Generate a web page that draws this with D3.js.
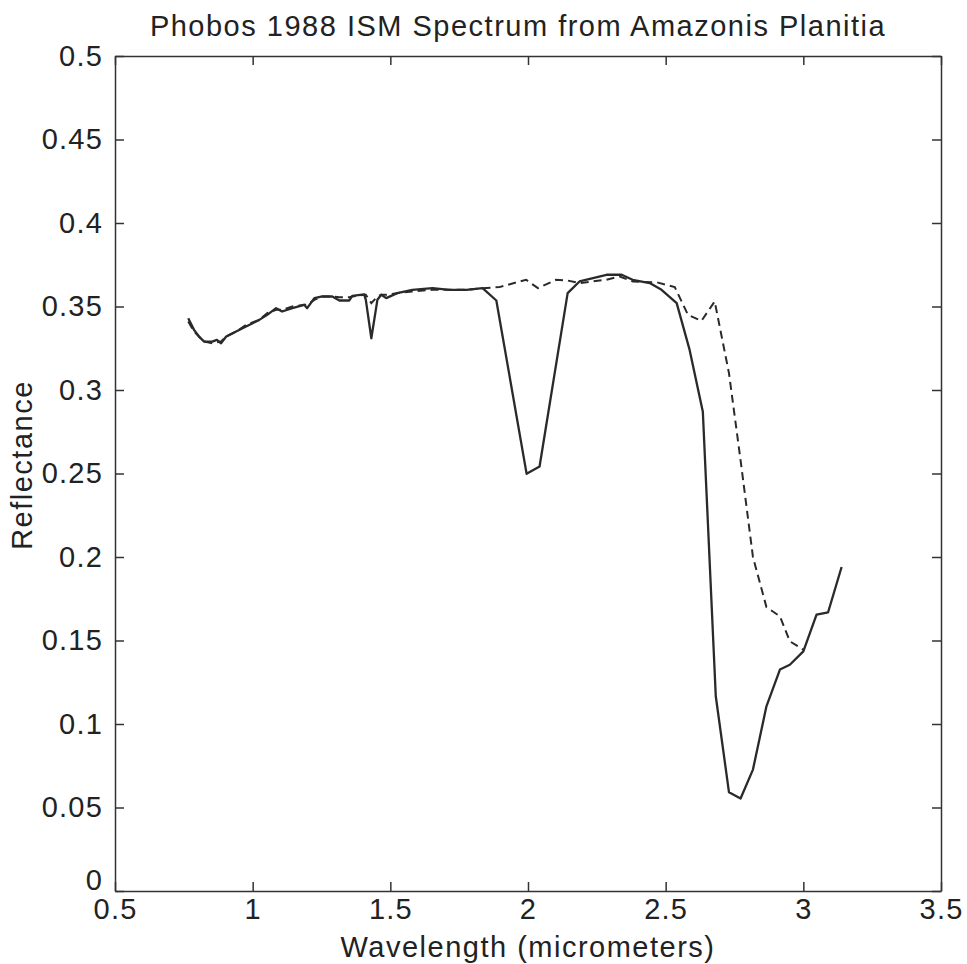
<!DOCTYPE html>
<html lang="en">
<head>
<meta charset="utf-8">
<title>Phobos 1988 ISM Spectrum</title>
<script type="text/javascript" src="https://d3js.org/d3.v7.min.js"></script>
<style type="text/css">
    body { margin: 0; background: white; }
    .axis path, .axis line { fill: none; stroke: #333; stroke-width: 1.5; }
    .axis text { font-family: "Liberation Sans", Arial, sans-serif; font-size: 29px; letter-spacing: 1.2px; fill: #222; }
    .lbl { font-family: "Liberation Sans", Arial, sans-serif; font-size: 29px; letter-spacing: 1.5px; fill: #222; }
</style>
</head>
<body>
<script type="text/javascript">
// wavelength (micrometers), reflectance
var solidWave = [0.766,0.787,0.805,0.824,0.853,0.870,0.885,0.904,0.940,0.976,1.000,1.024,1.053,1.085,1.107,1.144,1.187,1.198,1.224,1.253,1.289,1.315,1.351,1.362,1.405,1.411,1.431,1.453,1.467,1.485,1.525,1.580,1.653,1.715,1.776,1.835,1.885,1.995,2.042,2.144,2.187,2.285,2.340,2.380,2.442,2.485,2.540,2.587,2.635,2.682,2.730,2.772,2.817,2.866,2.915,2.951,3.000,3.048,3.090,3.139];
var solidRefl = [0.343,0.336,0.332,0.329,0.329,0.330,0.328,0.332,0.335,0.338,0.340,0.342,0.345,0.349,0.347,0.349,0.351,0.349,0.355,0.356,0.356,0.3536,0.3536,0.3564,0.3573,0.354,0.331,0.354,0.357,0.355,0.358,0.360,0.361,0.360,0.360,0.361,0.3536,0.2498,0.2542,0.358,0.365,0.369,0.369,0.366,0.364,0.360,0.352,0.324,0.287,0.1166,0.0591,0.0554,0.0727,0.1106,0.1326,0.1355,0.1435,0.1655,0.1669,0.194];

var dashWave = [0.766,0.787,0.824,0.853,0.885,0.904,0.940,0.976,1.024,1.053,1.085,1.107,1.144,1.187,1.198,1.224,1.253,1.289,1.315,1.351,1.362,1.405,1.411,1.431,1.453,1.467,1.485,1.525,1.580,1.653,1.715,1.776,1.835,1.896,1.993,2.036,2.102,2.145,2.187,2.284,2.333,2.381,2.472,2.533,2.581,2.630,2.678,2.730,2.772,2.817,2.866,2.915,2.951,3.000];
var dashRefl = [0.341,0.335,0.329,0.328,0.329,0.332,0.335,0.339,0.342,0.346,0.348,0.348,0.350,0.351,0.351,0.354,0.356,0.356,0.3556,0.3556,0.356,0.357,0.357,0.352,0.356,0.357,0.357,0.358,0.359,0.360,0.360,0.360,0.361,0.3616,0.366,0.361,0.366,0.3655,0.364,0.366,0.368,0.365,0.3643,0.3616,0.345,0.3414,0.353,0.310,0.258,0.200,0.170,0.1645,0.1495,0.1445];

var xTicks = [0.5,1,1.5,2,2.5,3,3.5];
var xTickLabels = ["0.5","1","1.5","2","2.5","3","3.5"];
var yTicks = [0,0.05,0.1,0.15,0.2,0.25,0.3,0.35,0.4,0.45,0.5];
var yTickLabels = ["0","0.05","0.1","0.15","0.2","0.25","0.3","0.35","0.4","0.45","0.5"];

var w = 967, h = 964;
var padL = 115, padR = 941, padT = 56, padB = 891;

var svg = d3.select("body").append("svg")
    .attr("width", w)
    .attr("height", h);

var x = d3.scaleLinear().domain([0.5, 3.5]).range([padL, padR]);
var y = d3.scaleLinear().domain([0, 0.5]).range([padB, padT]);

// axes, ticks pointing inward on all four sides
svg.append("g").attr("class", "axis")
    .attr("transform", "translate(0," + padB + ")")
    .call(d3.axisBottom(x).tickValues(xTicks)
        .tickFormat(function(d, i) { return xTickLabels[i]; })
        .tickSizeInner(-9).tickSizeOuter(0).tickPadding(7));
svg.append("g").attr("class", "axis")
    .attr("transform", "translate(0," + padT + ")")
    .call(d3.axisTop(x).tickValues(xTicks).tickFormat("")
        .tickSizeInner(-9).tickSizeOuter(0));
var yAxis = svg.append("g").attr("class", "axis")
    .attr("transform", "translate(" + padL + ",0)")
    .call(d3.axisLeft(y).tickValues(yTicks)
        .tickFormat(function(d, i) { return yTickLabels[i]; })
        .tickSizeInner(-9).tickSizeOuter(0).tickPadding(12));
// the "0" label sits a little higher, clear of the x labels
yAxis.selectAll(".tick text").filter(function(d) { return d === 0; })
    .attr("dy", "-0.05em");
svg.append("g").attr("class", "axis")
    .attr("transform", "translate(" + padR + ",0)")
    .call(d3.axisRight(y).tickValues(yTicks).tickFormat("")
        .tickSizeInner(-9).tickSizeOuter(0));

var line = d3.line()
    .x(function(d) { return x(d[0]); })
    .y(function(d) { return y(d[1]); });

var solid = solidWave.map(function(v, i) { return [v, solidRefl[i]]; });
var dashed = dashWave.map(function(v, i) { return [v, dashRefl[i]]; });

svg.append("path").datum(dashed)
    .attr("d", line)
    .attr("fill", "none")
    .attr("stroke", "#2a2a2a")
    .attr("stroke-width", 2)
    .attr("stroke-dasharray", "8,5");

svg.append("path").datum(solid)
    .attr("d", line)
    .attr("fill", "none")
    .attr("stroke", "#2a2a2a")
    .attr("stroke-width", 2.3)
    .attr("stroke-linejoin", "round");

// titles
svg.append("text").attr("class", "lbl")
    .attr("x", 518).attr("y", 36)
    .attr("text-anchor", "middle")
    .text("Phobos 1988 ISM Spectrum from Amazonis Planitia");
svg.append("text").attr("class", "lbl")
    .attr("x", 528).attr("y", 957)
    .attr("text-anchor", "middle")
    .text("Wavelength (micrometers)");
svg.append("text").attr("class", "lbl")
    .attr("transform", "translate(32,465) rotate(-90)")
    .attr("text-anchor", "middle")
    .text("Reflectance");
</script>
</body>
</html>
